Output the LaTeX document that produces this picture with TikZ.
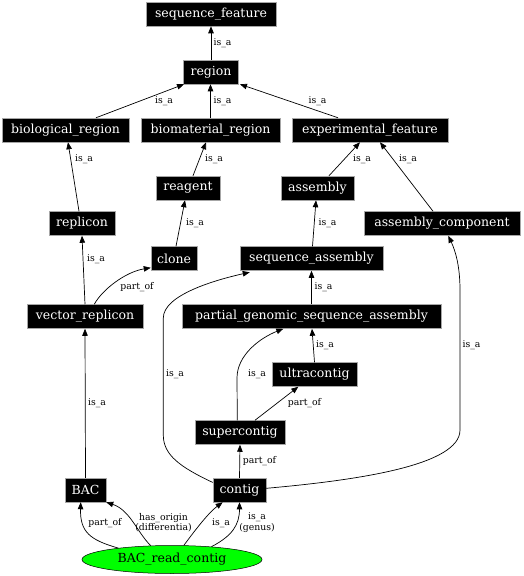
\documentclass[tikz,border=0pt]{standalone}
\usepackage{fontspec}
\setmainfont{DejaVu Serif}
\usetikzlibrary{arrows.meta,shapes.geometric}
\begin{document}
\begin{tikzpicture}[x=1pt,y=-1pt,
  box/.style={rectangle,fill=black,draw=gray!70,line width=0.5pt,text=white,
    font=\fontsize{12.5}{14}\selectfont,minimum height=24pt,inner sep=0pt},
  lbl/.style={font=\fontsize{9.3}{10}\selectfont,inner sep=0pt,align=center},
  edge/.style={draw=black,line width=0.7pt,-{Triangle[length=7pt,width=5.5pt]}}]
\useasboundingbox (0,0) rectangle (523,576);
\fill[white] (0,0) rectangle (523,576);
% nodes
\node[box,minimum width=130pt] (sf) at (211,14) {sequence\_feature};
\node[box,minimum width=55pt] (region) at (211,72) {region};
\node[box,minimum width=127pt] (biol) at (65.5,130) {biological\_region};
\node[box,minimum width=139pt] (biom) at (210.5,130) {biomaterial\_region};
\node[box,minimum width=156pt] (expf) at (370,130) {experimental\_feature};
\node[box,minimum width=64pt] (reagent) at (188,188) {reagent};
\node[box,minimum width=73pt] (assembly) at (317.5,188) {assembly};
\node[box,minimum width=66pt] (replicon) at (82,223.5) {replicon};
\node[box,minimum width=156pt] (asmcomp) at (442,223.5) {assembly\_component};
\node[box,minimum width=46pt] (clone) at (174,258.5) {clone};
\node[box,minimum width=143pt] (seqasm) at (311.5,258.5) {sequence\_assembly};
\node[box,minimum width=116pt] (vecrep) at (85,316.5) {vector\_replicon};
\node[box,minimum width=259pt] (pgsa) at (311.5,316.5) {partial\_genomic\_sequence\_assembly};
\node[box,minimum width=85pt] (ultra) at (314.5,374.5) {ultracontig};
\node[box,minimum width=90pt] (super) at (240,432.5) {supercontig};
\node[box,minimum width=41pt] (BAC) at (85.5,490) {BAC};
\node[box,minimum width=53pt] (contig) at (239.5,490) {contig};
\node[ellipse,fill=green,draw=black,line width=0.5pt,minimum width=180pt,minimum height=28pt,inner sep=0pt,
  font=\fontsize{12.5}{14}\selectfont] (brc) at (172,559.5) {BAC\_read\_contig};
% edges
\draw[edge] (region.north) -- (sf.south);
\draw[edge] ([xshift=30.5pt]biol.north) -- ([xshift=-27pt]region.south);
\draw[edge] (biom.north) -- ([xshift=-0.5pt]region.south);
\draw[edge] ([xshift=-32pt]expf.north) -- ([xshift=29pt]region.south);
\draw[edge] ([xshift=-3pt]replicon.north) -- ([xshift=2.5pt]biol.south);
\draw[edge] ([xshift=5pt]reagent.north) -- ([xshift=-4.5pt]biom.south);
\draw[edge] ([xshift=11.5pt]assembly.north) -- ([xshift=-10pt]expf.south);
\draw[edge] ([xshift=-9pt]asmcomp.north) -- ([xshift=10pt]expf.south);
\draw[edge] ([xshift=2pt]clone.north) -- ([xshift=-3pt]reagent.south);
\draw[edge] ([xshift=1pt]seqasm.north) -- ([xshift=-1.5pt]assembly.south);
\draw[edge] (vecrep.north) -- (replicon.south);
\draw[edge] ([xshift=9.3pt]vecrep.north) .. controls (102,290) and (125,272) .. ([yshift=3pt]clone.south west);
\draw[edge] (pgsa.north) -- (seqasm.south);
\draw[edge] ([yshift=-4.7pt]contig.north west) .. controls (180,467) and (163.3,455) .. (163.3,435)
   -- (163.3,318) .. controls (163.3,295) and (215,280) .. ([xshift=10pt,yshift=-1.5pt]seqasm.south west);
\draw[edge] ([xshift=-2.7pt]super.north) -- (237,378) .. controls (237,355) and (260,338) .. ([xshift=-28.2pt]pgsa.south);
\draw[edge] (ultra.north) -- ([xshift=0.5pt]pgsa.south);
\draw[edge] ([yshift=1.7pt]contig.east) .. controls (360,480) and (460,465) .. (460,430)
   -- (460,290) .. controls (460,265) and (455,250) .. ([xshift=6.3pt]asmcomp.south);
\draw[edge] ([xshift=15pt]super.north) -- ([xshift=-16.2pt]ultra.south);
\draw[edge] (contig.north) -- (super.south);
\draw[edge] (BAC.north) -- (vecrep.south);
\draw[edge] (brc.168) .. controls (90,540) and (80,532) .. ([xshift=-4.8pt]BAC.south);
\draw[edge] (brc.147) .. controls (137,532) and (130,510) .. (BAC.south east);
\draw[edge] (brc.50) .. controls (193,533) and (208,513) .. ([xshift=-16.8pt]contig.south);
\draw[edge] (brc.18) .. controls (232,536) and (239.5,525) .. (contig.south);
% labels
\node[lbl] (l1) at (222.5,43) {is\_a};
\node[lbl] (l2) at (164,101) {is\_a};
\node[lbl] (l3) at (222.5,101) {is\_a};
\node[lbl] (l4) at (317.5,101) {is\_a};
\node[lbl] (l5) at (84,159) {is\_a};
\node[lbl] (l6) at (214,159) {is\_a};
\node[lbl] (l7) at (362,159) {is\_a};
\node[lbl] (l8) at (408,159) {is\_a};
\node[lbl] (l9) at (195,223) {is\_a};
\node[lbl] (l10) at (327.5,223) {is\_a};
\node[lbl] (l11) at (96,259) {is\_a};
\node[lbl] (l12) at (137,287) {part\_of};
\node[lbl] (l13) at (323.5,287) {is\_a};
\node[lbl] (l14) at (325,345) {is\_a};
\node[lbl] (l15) at (471.5,345) {is\_a};
\node[lbl] (l16) at (175,374) {is\_a};
\node[lbl] (l17) at (257,374) {is\_a};
\node[lbl] (l18) at (97,403) {is\_a};
\node[lbl] (l19) at (304.5,403) {part\_of};
\node[lbl] (l20) at (259.5,461) {part\_of};
\node[lbl] (l21) at (105,523) {part\_of};
\node[lbl,font=\fontsize{9.3}{9}\selectfont] (l22) at (163.5,522.5) {has\_origin\\(differentia)};
\node[lbl] (l23) at (221,523) {is\_a};
\node[lbl,font=\fontsize{9.3}{9}\selectfont] (l24) at (257,522.5) {is\_a\\(genus)};
\end{tikzpicture}
\end{document}
